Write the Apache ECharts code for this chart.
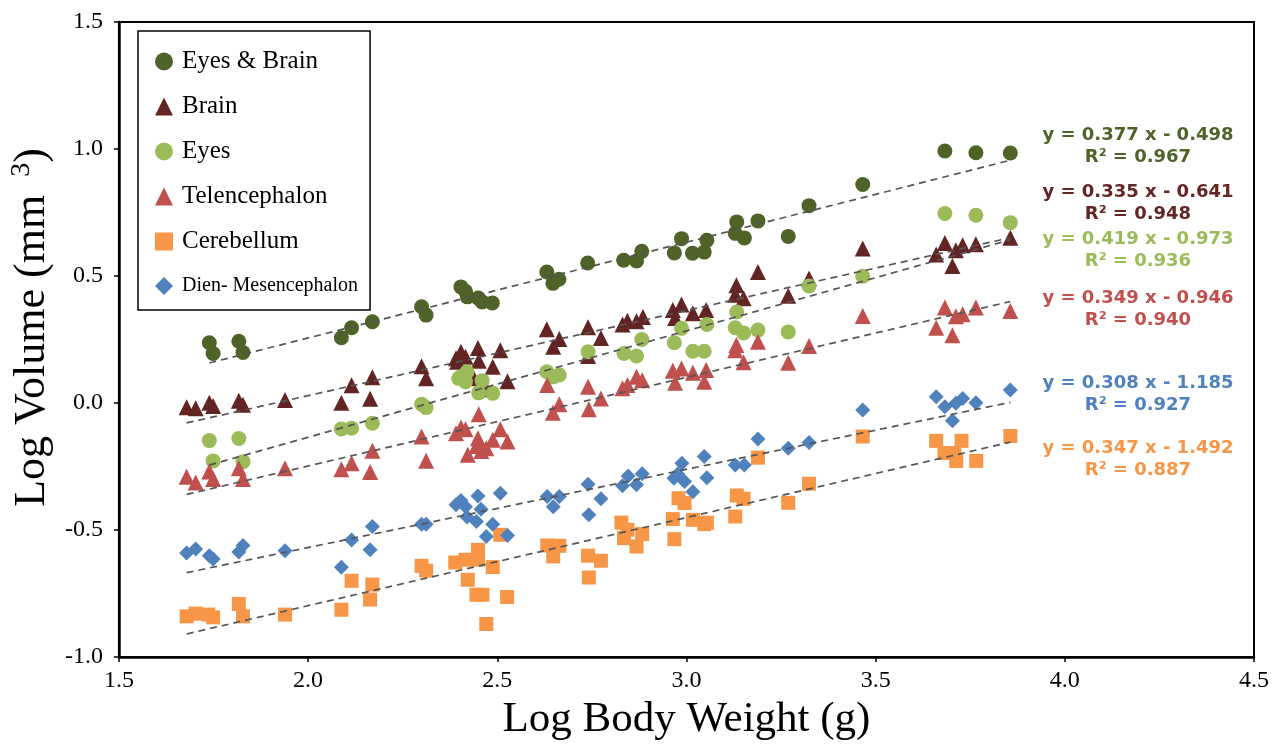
<!DOCTYPE html>
<html lang="en">
<head>
  <meta charset="UTF-8">
  <title>Log Volume vs Log Body Weight</title>
  <style>
    html, body { margin: 0; padding: 0; background: #fff; }
    #chart { width: 1272px; height: 746px; }
  </style>
</head>
<body>
  <div id="chart"></div>
  <script src="https://cdn.jsdelivr.net/npm/echarts@6/dist/echarts.min.js"></script>
  <script>
    // [log body weight, log volume]
    var eyesBrain = [
      [1.739, 0.237], [1.749, 0.195], [1.817, 0.243], [1.828, 0.199], [2.088, 0.257], [2.115, 0.296],
      [2.170, 0.320], [2.300, 0.379], [2.312, 0.346], [2.404, 0.457], [2.416, 0.440], [2.421, 0.418],
      [2.450, 0.413], [2.460, 0.398], [2.487, 0.394], [2.631, 0.516], [2.647, 0.471], [2.663, 0.487],
      [2.739, 0.551], [2.834, 0.562], [2.868, 0.559], [2.882, 0.597], [2.968, 0.591], [2.987, 0.647],
      [3.016, 0.590], [3.047, 0.594], [3.054, 0.641], [3.129, 0.668], [3.133, 0.713], [3.153, 0.650],
      [3.189, 0.717], [3.269, 0.656], [3.324, 0.777], [3.466, 0.860], [3.683, 0.992], [3.765, 0.985],
      [3.856, 0.984]
    ];
    var brain = [
      [1.679, -0.017], [1.703, -0.021], [1.739, 0.001], [1.749, -0.012], [1.817, 0.009], [1.828, -0.007],
      [1.939, 0.012], [2.088, 0.001], [2.115, 0.070], [2.164, 0.017], [2.170, 0.101], [2.300, 0.145],
      [2.312, 0.097], [2.391, 0.176], [2.404, 0.202], [2.394, 0.162], [2.416, 0.182], [2.449, 0.217],
      [2.451, 0.166], [2.508, 0.208], [2.488, 0.143], [2.527, 0.086], [2.438, 0.097], [2.471, 0.054],
      [2.631, 0.290], [2.648, 0.221], [2.664, 0.252], [2.740, 0.298], [2.740, 0.185], [2.774, 0.256],
      [2.831, 0.309], [2.844, 0.324], [2.868, 0.322], [2.885, 0.339], [2.964, 0.366], [2.987, 0.388],
      [2.970, 0.335], [3.017, 0.353], [3.052, 0.366], [3.132, 0.464], [3.129, 0.426], [3.151, 0.412],
      [3.189, 0.516], [3.269, 0.422], [3.324, 0.490], [3.466, 0.608], [3.660, 0.585], [3.683, 0.630],
      [3.703, 0.539], [3.712, 0.601], [3.730, 0.621], [3.765, 0.625], [3.856, 0.651]
    ];
    var eyes = [
      [1.739, -0.148], [1.749, -0.228], [1.817, -0.140], [1.828, -0.231], [2.088, -0.102], [2.115, -0.099],
      [2.170, -0.080], [2.300, -0.005], [2.312, -0.018], [2.398, 0.097], [2.404, 0.103], [2.420, 0.123],
      [2.416, 0.084], [2.460, 0.088], [2.451, 0.040], [2.488, 0.038], [2.631, 0.123], [2.647, 0.103],
      [2.664, 0.110], [2.740, 0.202], [2.835, 0.195], [2.868, 0.185], [2.882, 0.250], [2.968, 0.237],
      [2.987, 0.294], [3.017, 0.204], [3.047, 0.204], [3.054, 0.309], [3.129, 0.296], [3.133, 0.358],
      [3.151, 0.276], [3.189, 0.287], [3.269, 0.280], [3.324, 0.461], [3.466, 0.499], [3.683, 0.746],
      [3.765, 0.739], [3.856, 0.710]
    ];
    var telencephalon = [
      [1.679, -0.290], [1.703, -0.313], [1.739, -0.270], [1.749, -0.299], [1.817, -0.257], [1.828, -0.299],
      [1.939, -0.257], [2.088, -0.261], [2.115, -0.237], [2.164, -0.272], [2.170, -0.188], [2.300, -0.132],
      [2.312, -0.227], [2.391, -0.119], [2.404, -0.096], [2.416, -0.103], [2.451, -0.044], [2.508, -0.103],
      [2.449, -0.139], [2.488, -0.145], [2.527, -0.152], [2.445, -0.169], [2.422, -0.204], [2.458, -0.189],
      [2.471, -0.178], [2.632, 0.071], [2.647, -0.038], [2.664, -0.005], [2.740, 0.064], [2.742, -0.025],
      [2.774, 0.018], [2.831, 0.058], [2.844, 0.071], [2.868, 0.103], [2.883, 0.090], [2.964, 0.127],
      [2.987, 0.136], [2.970, 0.080], [3.017, 0.119], [3.052, 0.130], [3.047, 0.084], [3.132, 0.228],
      [3.129, 0.208], [3.151, 0.160], [3.189, 0.241], [3.269, 0.158], [3.324, 0.224], [3.466, 0.343],
      [3.660, 0.296], [3.683, 0.376], [3.703, 0.267], [3.712, 0.342], [3.730, 0.349], [3.765, 0.376],
      [3.856, 0.362]
    ];
    var cerebellum = [
      [1.679, -0.840], [1.703, -0.829], [1.736, -0.833], [1.749, -0.844], [1.817, -0.791], [1.828, -0.840],
      [1.939, -0.833], [2.088, -0.814], [2.115, -0.700], [2.164, -0.774], [2.170, -0.715], [2.300, -0.641],
      [2.312, -0.660], [2.389, -0.628], [2.416, -0.617], [2.449, -0.578], [2.449, -0.617], [2.422, -0.696],
      [2.488, -0.646], [2.445, -0.755], [2.461, -0.755], [2.526, -0.764], [2.471, -0.870], [2.508, -0.519],
      [2.632, -0.561], [2.648, -0.604], [2.664, -0.562], [2.740, -0.601], [2.774, -0.621], [2.742, -0.687],
      [2.828, -0.471], [2.844, -0.499], [2.835, -0.532], [2.868, -0.565], [2.883, -0.516], [2.964, -0.457],
      [2.979, -0.375], [2.995, -0.394], [2.968, -0.536], [3.017, -0.460], [3.047, -0.477], [3.054, -0.471],
      [3.133, -0.364], [3.151, -0.377], [3.129, -0.447], [3.189, -0.215], [3.269, -0.393], [3.324, -0.318],
      [3.466, -0.132], [3.660, -0.149], [3.682, -0.197], [3.708, -0.197], [3.713, -0.228], [3.727, -0.149],
      [3.766, -0.228], [3.856, -0.130]
    ];
    var dienMesencephalon = [
      [1.679, -0.591], [1.703, -0.575], [1.739, -0.601], [1.749, -0.614], [1.817, -0.587], [1.828, -0.561],
      [1.939, -0.582], [2.088, -0.647], [2.115, -0.539], [2.164, -0.578], [2.170, -0.486], [2.300, -0.477],
      [2.312, -0.477], [2.391, -0.401], [2.404, -0.384], [2.416, -0.408], [2.449, -0.366], [2.508, -0.355],
      [2.457, -0.418], [2.420, -0.449], [2.445, -0.467], [2.488, -0.477], [2.471, -0.526], [2.527, -0.522],
      [2.632, -0.368], [2.648, -0.408], [2.664, -0.368], [2.740, -0.320], [2.774, -0.377], [2.742, -0.440],
      [2.831, -0.326], [2.846, -0.287], [2.868, -0.322], [2.883, -0.279], [2.967, -0.296], [2.988, -0.237],
      [2.977, -0.280], [2.995, -0.309], [3.017, -0.349], [3.047, -0.211], [3.054, -0.294], [3.129, -0.244],
      [3.153, -0.244], [3.189, -0.142], [3.269, -0.178], [3.324, -0.156], [3.466, -0.028], [3.660, 0.025],
      [3.683, -0.015], [3.703, -0.070], [3.712, -0.001], [3.730, 0.018], [3.765, 0.001], [3.856, 0.051]
    ];

    var names = ['Eyes & Brain', 'Brain', 'Eyes', 'Telencephalon', 'Cerebellum', 'Dien- Mesencephalon'];
    var colors = ['#4F6228', '#632523', '#9BBB59', '#C0504D', '#F79646', '#4F81BD'];
    var symbols = ['circle', 'triangle', 'circle', 'triangle', 'rect', 'diamond'];
    var slopes = [0.377, 0.335, 0.419, 0.349, 0.347, 0.308];
    var intercepts = [-0.498, -0.641, -0.973, -0.946, -1.492, -1.185];
    var r2 = ['0.967', '0.948', '0.936', '0.940', '0.887', '0.927'];
    var xTicks = [1.5, 4.5, 0.5]; // min, max, step
    var yTicks = [-1.0, 1.5, 0.5];

    var datasets = [eyesBrain, brain, eyes, telencephalon, cerebellum, dienMesencephalon];
    var symbolSizes = [15, 16, 15, 16, 14, 15];
    // equation label centre and top, in pixels
    var eqPos = [[1138, 124], [1138, 181], [1138, 228], [1138, 287], [1138, 437], [1138, 372]];

    var chart = echarts.init(document.getElementById('chart'));

    var series = [];
    for (var i = 0; i < datasets.length; i++) {
      series.push({
        name: names[i],
        type: 'scatter',
        symbol: symbols[i],
        symbolSize: symbolSizes[i],
        itemStyle: { color: colors[i], opacity: 1 },
        data: datasets[i],
        z: 2
      });
    }
    // dashed trend lines over the range of each series
    for (var k = 0; k < datasets.length; k++) {
      var xs = datasets[k].map(function (d) { return d[0]; });
      var x0 = Math.min.apply(null, xs);
      var x1 = Math.max.apply(null, xs);
      series.push({
        name: 'trend' + k,
        type: 'line',
        symbol: 'none',
        silent: true,
        lineStyle: { color: '#555', width: 1.7, type: [7, 5] },
        data: [[x0, slopes[k] * x0 + intercepts[k]], [x1, slopes[k] * x1 + intercepts[k]]],
        z: 3
      });
    }

    var graphics = [];
    for (var j = 0; j < names.length; j++) {
      var sign = intercepts[j] < 0 ? ' - ' : ' + ';
      graphics.push({
        type: 'text',
        x: eqPos[j][0],
        y: eqPos[j][1],
        z: 10,
        style: {
          text: 'y = ' + slopes[j].toFixed(3) + ' x' + sign + Math.abs(intercepts[j]).toFixed(3) + '\nR² = ' + r2[j],
          align: 'center',
          verticalAlign: 'top',
          font: 'bold 18px "DejaVu Sans"',
          lineHeight: 22,
          fill: colors[j]
        }
      });
    }

    var option = {
      animation: false,
      backgroundColor: '#fff',
      grid: {
        left: 117, right: 18, top: 22, bottom: 88,
        show: true, borderColor: '#000', borderWidth: 2
      },
      legend: {
        orient: 'vertical',
        left: 138, top: 31,
        padding: [18, 12, 12, 17],
        itemGap: 20,
        itemWidth: 18, itemHeight: 18,
        borderColor: '#000', borderWidth: 1.5,
        selectedMode: false,
        textStyle: {
          fontFamily: 'Liberation Serif', fontSize: 25, color: '#000',
          lineHeight: 24, padding: [0, 0, 0, 4]
        },
        data: [
          { name: names[0] }, { name: names[1] }, { name: names[2] },
          { name: names[3] }, { name: names[4] },
          { name: names[5], textStyle: { fontSize: 20 } }
        ]
      },
      xAxis: {
        type: 'value',
        min: xTicks[0], max: xTicks[1], interval: xTicks[2],
        name: 'Log Body Weight (g)',
        nameLocation: 'middle',
        nameGap: 41,
        nameTextStyle: { fontFamily: 'Liberation Serif', fontSize: 43, color: '#000' },
        axisLine: { onZero: false, lineStyle: { color: '#000', width: 2.5 } },
        axisTick: { show: true, inside: false, length: 5, lineStyle: { color: '#000', width: 1.5 } },
        axisLabel: {
          fontFamily: 'Liberation Serif', fontSize: 24, color: '#000', margin: 12,
          formatter: function (v) { return v.toFixed(1); }
        },
        splitLine: { show: false }
      },
      yAxis: {
        type: 'value',
        min: yTicks[0], max: yTicks[1], interval: yTicks[2],
        name: '{a|Log Volume (mm }{b| 3}{a|)}',
        nameLocation: 'middle',
        nameRotate: 90,
        nameGap: 57,
        nameTextStyle: {
          padding: [0, 0, 0, 24],
          rich: {
            a: { fontFamily: 'Liberation Serif', fontSize: 44, color: '#000', lineHeight: 48 },
            b: { fontFamily: 'Liberation Serif', fontSize: 28, color: '#000', lineHeight: 28, verticalAlign: 'top' }
          }
        },
        axisLine: { show: true, onZero: false, lineStyle: { color: '#000', width: 2.5 } },
        axisTick: { show: true, inside: false, length: 5, lineStyle: { color: '#000', width: 1.5 } },
        axisLabel: {
          fontFamily: 'Liberation Serif', fontSize: 24, color: '#000', margin: 16,
          formatter: function (v) { return v.toFixed(1); }
        },
        splitLine: { show: false }
      },
      graphic: graphics,
      series: series
    };

    chart.setOption(option);
  </script>
</body>
</html>
